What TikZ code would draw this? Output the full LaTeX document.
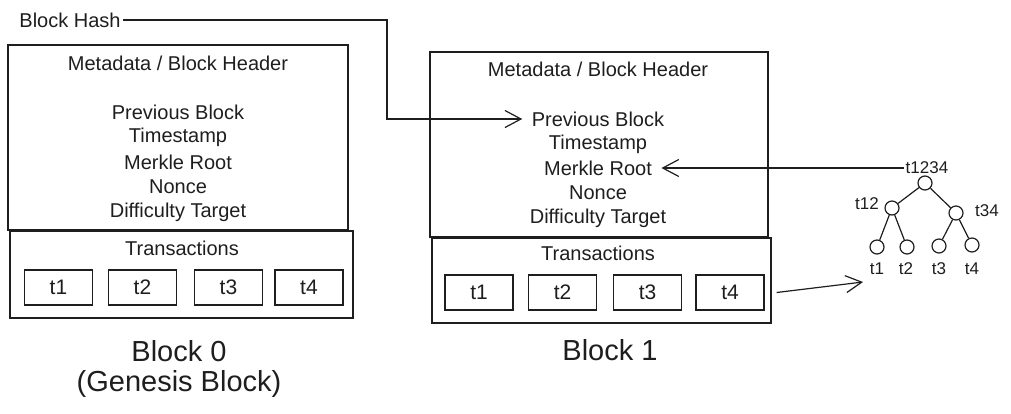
\documentclass[tikz,border=0pt]{standalone}
\usepackage{fontspec}
\setmainfont{Liberation Sans}
\usetikzlibrary{arrows.meta,positioning}
\definecolor{ink}{HTML}{1E1E1E}

\begin{document}
\begin{tikzpicture}[x=1pt, y=-1pt, color=ink, line width=1.2pt,
    txt/.style={font=\fontsize{20}{24}\selectfont, inner sep=2pt},
    big/.style={font=\fontsize{29}{34}\selectfont},
    treetxt/.style={font=\fontsize{17}{20}\selectfont, inner sep=1pt},
    txbox/.style={draw, minimum width=68pt, minimum height=35pt, font=\fontsize{21}{24}\selectfont},
    hashnode/.style={draw, circle, minimum size=14pt, inner sep=0pt},
    arr/.style={-{Straight Barb[length=16pt,width=17pt]}}]
    \useasboundingbox (0,0) rectangle (1011,413);

    \node[txt] (hash) at (70,20) {Block Hash};

    \draw (8,45) rectangle (348,230);
    \draw (10,231) rectangle (353,318);
    \node[txt] (meta0) at (178,63) {Metadata / Block Header};
    \node[txt] (prev0) at (178,112) {Previous Block};
    \node[txt] (time0) at (178,137) {Timestamp};
    \node[txt] (root0) at (178,162) {Merkle Root};
    \node[txt] (nonce0) at (178,187) {Nonce};
    \node[txt] (diff0) at (178,212) {Difficulty Target};
    \node[txt] (trans0) at (182,248) {Transactions};
    \node[txbox] (b0t1) at (58.5,287.5) {t1};
    \node[txbox] (b0t2) at (142.5,287.5) {t2};
    \node[txbox] (b0t3) at (228.5,287.5) {t3};
    \node[txbox] (b0t4) at (309,287.5) {t4};
    \node[big] (name0) at (179,351) {Block 0};
    \node[big] (genesis) at (179,384) {(Genesis Block)};

    \draw (430,52) rectangle (768,237);
    \draw (432,238) rectangle (771,323);
    \node[txt] (meta1) at (598,69) {Metadata / Block Header};
    \node[txt] (prev1) at (598,119) {Previous Block};
    \node[txt] (time1) at (598,144) {Timestamp};
    \node[txt] (root1) at (598,168) {Merkle Root};
    \node[txt] (nonce1) at (598,193) {Nonce};
    \node[txt] (diff1) at (598,218) {Difficulty Target};
    \node[txt] (trans1) at (598,253) {Transactions};
    \node[txbox] (b1t1) at (479,292.5) {t1};
    \node[txbox] (b1t2) at (562.5,292.5) {t2};
    \node[txbox] (b1t3) at (647.5,292.5) {t3};
    \node[txbox] (b1t4) at (730,292.5) {t4};
    \node[big] (name1) at (610,350) {Block 1};

    \coordinate (bend) at (387,119);
    \draw[arr, shorten >=7pt] (hash.east) -| (bend) to (prev1.west);

    \node[hashnode] (h1234) at (925,183) {};
    \node[hashnode] (h12) at (892,208) {};
    \node[hashnode] (h34) at (956,213) {};
    \node[hashnode] (h1) at (877,247) {};
    \node[hashnode] (h2) at (907,247) {};
    \node[hashnode] (h3) at (939,246) {};
    \node[hashnode] (h4) at (972,245) {};
    \draw (h1234) to (h12);
    \draw (h1234) to (h34);
    \draw (h12) to (h1);
    \draw (h12) to (h2);
    \draw (h34) to (h3);
    \draw (h34) to (h4);

    \node[treetxt] (l1234) at (927,168) {t1234};
    \node[treetxt] (l12) at (867,204) {t12};
    \node[treetxt] (l34) at (987,211) {t34};
    \node[treetxt] (l1) at (877,269) {t1};
    \node[treetxt] (l2) at (906,269) {t2};
    \node[treetxt] (l3) at (939,269) {t3};
    \node[treetxt] (l4) at (972,269) {t4};

    \draw[arr, shorten >=7pt] (l1234.west) to (root1.east);

    \coordinate (leaves) at (863,282);
    \draw[arr] ([xshift=12pt]b1t4.east) to (leaves);
\end{tikzpicture}
\end{document}
